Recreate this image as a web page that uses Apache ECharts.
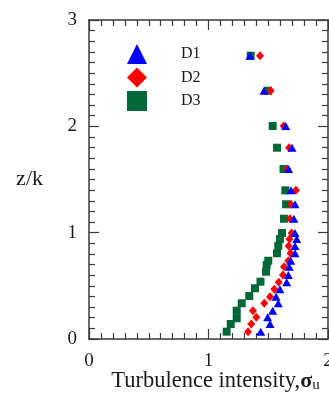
<!DOCTYPE html>
<html>
<head>
<meta charset="utf-8">
<script src="https://cdn.jsdelivr.net/npm/echarts@6/dist/echarts.min.js"></script>
<style>html,body{margin:0;padding:0;background:#fff}#c{width:329px;height:396px}</style>
</head>
<body>
<div id="c"></div>
<script>
var seriesNames = ['D1', 'D2', 'D3'];
var xTickLabels = ['0', '1', '2'];
var yTickLabels = ['0', '1', '2', '3'];

var d1Z = [2.664, 2.335, 2.003, 1.799, 1.599, 1.398, 1.267, 1.131, 0.997, 0.941, 0.875, 0.806, 0.736, 0.680, 0.602, 0.533, 0.467, 0.398, 0.336, 0.266, 0.204, 0.141, 0.069];
var d1X = [1.347, 1.464, 1.646, 1.699, 1.670, 1.690, 1.724, 1.715, 1.724, 1.738, 1.724, 1.724, 1.688, 1.676, 1.668, 1.654, 1.598, 1.565, 1.584, 1.537, 1.495, 1.515, 1.437];

var d2Z = [2.664, 2.335, 2.003, 1.799, 1.599, 1.398, 1.267, 1.131, 0.997, 0.941, 0.875, 0.806, 0.736, 0.680, 0.602, 0.533, 0.467, 0.398, 0.336, 0.266, 0.204, 0.141, 0.069];
var d2X = [1.431, 1.521, 1.629, 1.674, 1.659, 1.732, 1.690, 1.682, 1.696, 1.678, 1.671, 1.686, 1.668, 1.632, 1.623, 1.588, 1.551, 1.515, 1.467, 1.372, 1.400, 1.358, 1.331];

var d3Z = [2.664, 2.335, 2.003, 1.799, 1.599, 1.398, 1.267, 1.131, 0.997, 0.941, 0.875, 0.806, 0.736, 0.696, 0.633, 0.539, 0.477, 0.404, 0.336, 0.266, 0.195, 0.141, 0.069];
var d3X = [1.353, 1.498, 1.537, 1.573, 1.628, 1.643, 1.649, 1.632, 1.615, 1.598, 1.584, 1.573, 1.500, 1.487, 1.481, 1.435, 1.389, 1.341, 1.278, 1.236, 1.236, 1.186, 1.152];

function pairs(xs, zs) { return xs.map(function (v, i) { return [v, zs[i]]; }); }

var serif = 'Liberation Serif, Times New Roman, serif';
var axisColor = '#3a3a3a';
var textColor = '#1a1a1a';

function baseAxis(extra) {
  var a = {
    min: 0, interval: 1,
    axisLine: { show: true, onZero: false, lineStyle: { color: axisColor, width: 1.5 } },
    axisTick: { show: true, inside: true, length: 10, lineStyle: { color: axisColor, width: 1.2 } },
    minorTick: { show: true, splitNumber: 10, length: 6, lineStyle: { color: axisColor, width: 1.2 } },
    splitLine: { show: false },
    minorSplitLine: { show: false }
  };
  for (var k in extra) a[k] = extra[k];
  return a;
}

var chart = echarts.init(document.getElementById('c'), null, { renderer: 'canvas' });
chart.setOption({
  animation: false,
  backgroundColor: '#fff',
  grid: { left: 89, top: 20, right: 1, bottom: 57, containLabel: false, outerBoundsMode: 'none' },
  legend: {
    orient: 'vertical',
    left: 122, top: 39,
    itemWidth: 20, itemHeight: 20, itemGap: 3.5,
    data: seriesNames,
    textStyle: { fontFamily: serif, fontSize: 16, color: textColor, padding: [0, 0, 0, 29] }
  },
  xAxis: [
    baseAxis({
      type: 'value', position: 'bottom', max: 2,
      axisLabel: { show: true, margin: 13, fontFamily: serif, fontSize: 19, color: textColor,
        formatter: function (v) { var i = Math.round(v); return (Math.abs(v - i) < 1e-6 && xTickLabels[i] !== undefined) ? xTickLabels[i] : ''; } },
      name: 'Turbulence intensity,{s|σ}{u|u}',
      nameLocation: 'middle', nameGap: 31, nameMoveOverlap: false,
      nameTextStyle: { fontFamily: serif, fontSize: 22.5, color: textColor, padding: [0, 0, 0, 14],
        rich: { s: { fontFamily: serif, fontSize: 22, fontWeight: 'bold', color: textColor },
                u: { fontFamily: serif, fontSize: 15, color: textColor, verticalAlign: 'bottom', padding: [8, 0, 0, 0] } } }
    }),
    baseAxis({ type: 'value', position: 'top', max: 2, axisLabel: { show: false } })
  ],
  yAxis: [
    baseAxis({
      type: 'value', position: 'left', max: 3,
      axisLabel: { show: true, margin: 12, fontFamily: serif, fontSize: 19, color: textColor,
        formatter: function (v) { var i = Math.round(v); return (Math.abs(v - i) < 1e-6 && yTickLabels[i] !== undefined) ? yTickLabels[i] : ''; } },
      name: 'z/k', nameLocation: 'middle', nameRotate: 0, nameGap: 46, nameMoveOverlap: false,
      nameTextStyle: { fontFamily: serif, fontSize: 22, color: textColor, padding: [6, 0, 0, 0] }
    }),
    baseAxis({ type: 'value', position: 'right', max: 3, axisLabel: { show: false } })
  ],
  series: [
    { name: 'D3', type: 'scatter', symbol: 'rect', symbolSize: 8, z: 2,
      itemStyle: { color: '#006837', opacity: 1 }, data: pairs(d3X, d3Z) },
    { name: 'D2', type: 'scatter', symbol: 'diamond', symbolSize: [8, 9], z: 3,
      itemStyle: { color: '#ff0000', opacity: 1 }, data: pairs(d2X, d2Z) },
    { name: 'D1', type: 'scatter', symbol: 'triangle', symbolSize: [9, 8], z: 4,
      itemStyle: { color: '#0000ff', opacity: 1 }, data: pairs(d1X, d1Z) }
  ]
});
</script>
</body>
</html>
